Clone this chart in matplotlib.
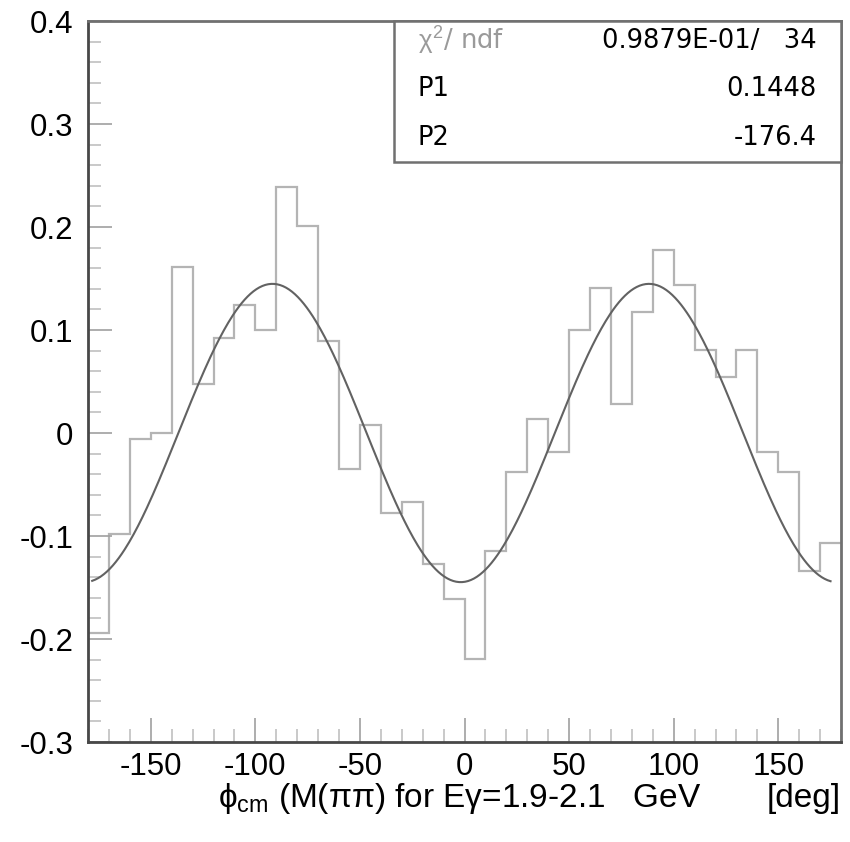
import numpy as np
import matplotlib
matplotlib.use("Agg")
from matplotlib import pyplot as plt
from matplotlib.patches import Rectangle
from matplotlib.ticker import MultipleLocator, FuncFormatter

plt.rcParams.update({
    "font.family": ["Liberation Sans", "DejaVu Sans"],
    "mathtext.fontset": "custom",
    "mathtext.rm": "Liberation Sans",
    "mathtext.it": "Liberation Sans",
    "mathtext.bf": "Liberation Sans:bold",
    "axes.unicode_minus": False,
})

# histogram: 36 bins of 10 deg from -180 to 180
bin_edges = np.arange(-180, 181, 10)
bin_values = [
    -0.194, -0.098, -0.006, 0.000, 0.161, 0.048, 0.092, 0.124, 0.100,
    0.239, 0.201, 0.089, -0.035, 0.008, -0.078, -0.067, -0.127, -0.161,
    -0.219, -0.115, -0.038, 0.014, -0.018, 0.100, 0.141, 0.028, 0.117,
    0.178, 0.144, 0.081, 0.054, 0.081, -0.018, -0.038, -0.134, -0.107,
]

# fit parameters shown in the stats box
chi2_text = "0.9879E-01/   34"
fit_p1 = 0.1448
fit_p2 = -176.4
fit_range = (-178, 175)

phi = np.linspace(fit_range[0], fit_range[1], 500)
fit_curve = fit_p1 * np.cos(np.radians(2 * phi + fit_p2))

fig = plt.figure(figsize=(8.5, 8.42), dpi=100)
ax = fig.add_axes([88 / 850, 1 - 742 / 842, 753 / 850, 721 / 842])

hist_color = "#b4b4b4"
fit_color = "#626262"

ax.stairs(bin_values, bin_edges, baseline=None, color=hist_color, lw=1.6)
ax.plot(phi, fit_curve, color=fit_color, lw=1.5)

ax.set_xlim(-180, 180)
ax.set_ylim(-0.3, 0.4)

ax.xaxis.set_major_locator(MultipleLocator(50))
ax.xaxis.set_minor_locator(MultipleLocator(10))
ax.yaxis.set_major_locator(MultipleLocator(0.1))
ax.yaxis.set_minor_locator(MultipleLocator(0.02))
ax.yaxis.set_major_formatter(FuncFormatter(lambda v, p: f"{round(v, 2):g}"))
ax.xaxis.set_major_formatter(FuncFormatter(lambda v, p: f"{v:g}"))

ax.tick_params(which="both", direction="in", top=False, right=False,
               labelsize=22.5, width=1.2)
ax.tick_params(which="major", length=17.5, color="#a0a0a0")
ax.tick_params(which="minor", length=9.5, color="#c0c0c0")
ax.tick_params(axis="y", which="major", pad=10.5)
ax.tick_params(axis="x", which="major", pad=7)

for side in ["left", "bottom"]:
    ax.spines[side].set_color("#484848")
    ax.spines[side].set_linewidth(2.0)
for side in ["top", "right"]:
    ax.spines[side].set_color("#707070")
    ax.spines[side].set_linewidth(2.0)

# stats box
box_x0 = (394 - 88) / 753
box_y0 = (742 - 162) / 721
ax.add_patch(Rectangle((box_x0, box_y0), 1 - box_x0, 1 - box_y0,
                       transform=ax.transAxes, facecolor="white",
                       edgecolor="#707070", lw=1.8, zorder=5, clip_on=False))
label_x = (418 - 88) / 753
value_x = (817 - 88) / 753
rows = [
    (r"$\chi^2$/ ndf", chi2_text, "#9a9a9a"),
    ("P1", f"{fit_p1:.4f}", "black"),
    ("P2", f"{fit_p2:.1f}", "black"),
]
row_y = [(742 - 41) / 721, (742 - 89) / 721, (742 - 138) / 721]
box_font = ["DejaVu Sans"]
for (name, value, col), y in zip(rows, row_y):
    ax.text(label_x, y, name, transform=ax.transAxes, ha="left", va="center",
            fontsize=18.5, color=col, zorder=6, family=box_font)
    ax.text(value_x, y, value, transform=ax.transAxes, ha="right",
            va="center", fontsize=18.5, color="black", zorder=6,
            family=box_font)

# axis title
ax.text((218 - 88) / 753, -0.078,
        r"$\phi_{\rm cm}$ (M(ππ) for Eγ=1.9-2.1   GeV",
        transform=ax.transAxes, ha="left", va="center", fontsize=24)
ax.text(1.0, -0.078, "[deg]", transform=ax.transAxes, ha="right",
        va="center", fontsize=24)

fig.savefig("out.png", dpi=100)
plt.close(fig)
